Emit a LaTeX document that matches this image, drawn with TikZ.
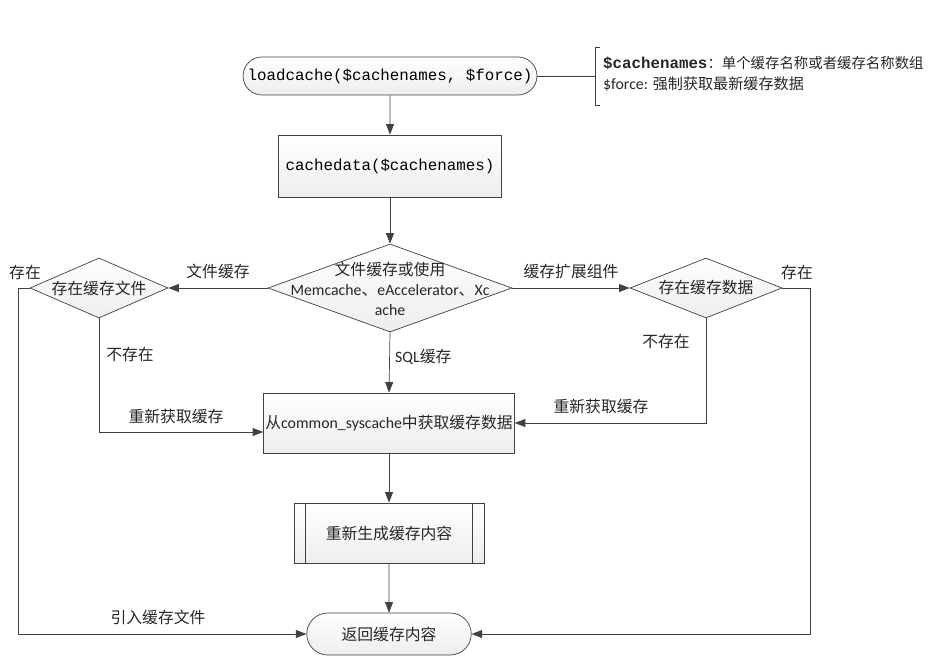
\documentclass[tikz,border=0pt]{standalone}
\usepackage{fontspec}
\setmainfont{Carlito}
\setmonofont{Liberation Mono}
\newfontfamily\cjk{Noto Sans CJK SC}
\usetikzlibrary{shapes.geometric,shapes.misc,arrows.meta,calc}
\definecolor{linegray}{HTML}{404040}
\tikzset{
  shade box/.style={draw=linegray, thin, top color=white, bottom color=gray!14},
  terminal/.style={shade box, rounded rectangle, inner sep=0pt},
  procbox/.style={shade box, rectangle, inner sep=0pt},
  decision/.style={shade box, diamond, inner sep=0pt},
  txt/.style={font=\fontsize{9}{11.5}\selectfont, text=black!85, align=center, inner sep=1pt},
  flow/.style={draw=linegray, thin, -{Triangle[length=6pt,width=4.5pt]}},
}
\begin{document}
\begin{tikzpicture}[x=0.02cm, y=-0.02cm]
\useasboundingbox (0,0) rectangle (942,668);

% Main column
\node[terminal, minimum width=5.88cm, minimum height=0.76cm, font=\ttfamily\fontsize{9}{11}\selectfont]
  (start) at (390,76) {loadcache(\$cachenames, \$force)};
\node[procbox, minimum width=4.46cm, minimum height=1.24cm, font=\ttfamily\fontsize{9}{11}\selectfont]
  (cdata) at (390,166) {cachedata(\$cachenames)};
\node[decision, minimum width=4.88cm, minimum height=1.76cm] (choose) at (390,288) {};
\node[txt] (choosetxt) at (390,289) {{\cjk 文件缓存或使用}\\Memcache{\cjk 、}eAccelerator{\cjk 、}Xc\\ache};
\node[procbox, minimum width=5.0cm, minimum height=1.2cm, txt] (fetch) at (389,423)
  {{\cjk 从}common\_syscache{\cjk 中获取缓存数据}};
\node[procbox, minimum width=3.8cm, minimum height=1.2cm, txt] (regen) at (389,533) {\cjk 重新生成缓存内容};
\node[terminal, minimum width=3.36cm, minimum height=0.84cm, txt] (finish) at (389,634) {\cjk 返回缓存内容};

% Subprocess side bars
\draw[linegray, thin] ([xshift=0.24cm]regen.north west) -- ([xshift=0.24cm]regen.south west);
\draw[linegray, thin] ([xshift=-0.24cm]regen.north east) -- ([xshift=-0.24cm]regen.south east);

% Side decisions
\node[decision, minimum width=2.76cm, minimum height=1.2cm] (hasfile) at (99,288) {};
\node[txt] (hasfiletxt) at (99,288) {\cjk 存在缓存文件};
\node[decision, minimum width=3.04cm, minimum height=1.2cm] (hasdata) at (706,288) {};
\node[txt] (hasdatatxt) at (706,288) {\cjk 存在缓存数据};

% Parameter note
\coordinate (notept) at (595,76);
\draw[linegray, thin] (start.east) -- (notept);
\draw[linegray, thin] (600,47) -- (595,47) -- (595,105) -- (600,105);
\node[txt, anchor=west] (note1) at (601,63)
  {{\fontsize{9}{11}\selectfont\ttfamily\bfseries \$cachenames}{\cjk\fontsize{8.2}{11}\selectfont ：单个缓存名称或者缓存名称数组}};
\node[txt, anchor=west] (note2) at (601,84) {\$force: {\cjk\fontsize{8.6}{11}\selectfont 强制获取最新缓存数据}};

% Connectors
\draw[flow] (start) -- (cdata);
\draw[flow] (cdata) -- (choose);
\draw[flow] (choose.west) -- node[txt, above=4pt] (lblfile) {\cjk 文件缓存} (hasfile.east);
\draw[flow] (choose.east) -- node[txt, above=4pt] (lblext) {\cjk 缓存扩展组件} (hasdata.west);
\draw[flow] (choose.south) -- node[txt, pos=0.4, right=2pt] (lblsql) {SQL{\cjk 缓存}} (fetch.north);
\draw[flow] (fetch) -- (regen);
\draw[flow] (regen) -- (finish);

% Cache missing: fetch again
\draw[flow] (hasfile.south) |- ($(fetch.west)+(0,9)$);
\node[txt] (lblnofile) at (130,354) {\cjk 不存在};
\node[txt] (lblrefetch1) at (176,416) {\cjk 重新获取缓存};
\draw[flow] (hasdata.south) |- (fetch.east);
\node[txt] (lblnodata) at (666,341) {\cjk 不存在};
\node[txt] (lblrefetch2) at (601,406) {\cjk 重新获取缓存};

% Cache present: straight to result
\coordinate (leftturn) at (18,288);
\coordinate (rightturn) at (810,288);
\draw[flow] (hasfile.west) -- (leftturn) |- (finish.west);
\node[txt] (lblyes1) at (25,272) {\cjk 存在};
\node[txt] (lblinclude) at (158,617) {\cjk 引入缓存文件};
\draw[flow] (hasdata.east) -- (rightturn) |- (finish.east);
\node[txt] (lblyes2) at (797,272) {\cjk 存在};
\end{tikzpicture}
\end{document}
